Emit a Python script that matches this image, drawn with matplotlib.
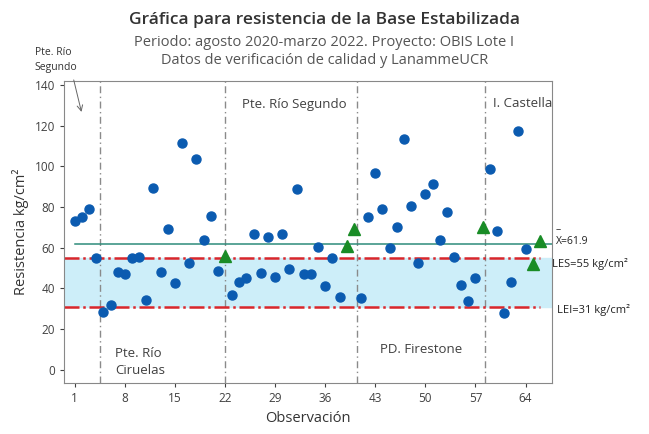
import matplotlib
matplotlib.use("Agg")
import matplotlib.pyplot as plt

plt.rcParams["font.family"] = ["Open Sans", "DejaVu Sans"]

# Datos
observaciones = list(range(1, 67))
resistencia = [
    73, 75, 79, 55, 28.5, 32, 48, 47, 55, 55.5,
    34.5, 89.5, 48, 69, 42.5, 111.5, 52.5, 103.5, 64, 75.5,
    48.5, 56, 37, 43, 45, 67, 47.5, 65.5, 45.5, 67,
    49.5, 89, 47, 47, 60.5, 41, 55, 36, 61, 69,
    35.5, 75, 96.5, 79, 60, 70, 113.5, 80.5, 52.5, 86.5,
    91.5, 64, 77.5, 55.5, 41.5, 34, 45, 70, 98.5, 68,
    28, 43, 117.5, 59.5, 52, 63.5,
]
obs_lanamme = [22, 39, 40, 58, 65, 66]

media = 61.9
les = 55
lei = 31

cortes_tramo = [4.5, 22, 40.5, 58.4]
tramos = [
    ("Pte. Río Segundo", 24.4, 130.5),
    ("I. Castella", 59.4, 131),
    ("Pte. Río\nCiruelas", 6.6, 4),
    ("PD. Firestone", 43.7, 10),
]

xticks = [1, 8, 15, 22, 29, 36, 43, 50, 57, 64]
yticks = [0, 20, 40, 60, 80, 100, 120, 140]

xlim = (-0.5, 67.7)
ylim = (-6.4, 141.9)

fig = plt.figure(figsize=(6.49, 4.34), dpi=100)
ax = fig.add_axes([0.0986, 0.1175, 0.752, 0.696])

ax.axhspan(lei, les, color="#cdeef9", zorder=0)
red_kw = dict(color="#d9262b", lw=1.8, dashes=(6, 1.5, 1, 1.5), zorder=2)
ax.plot([xlim[0], 66], [les, les], **red_kw)
ax.plot([xlim[0], 66], [lei, lei], **red_kw)
ax.plot([observaciones[0], xlim[1]], [media, media], color="#2e8b7a", lw=1.1, zorder=2)

for xc in cortes_tramo:
    ax.axvline(xc, color="#8a8a8a", lw=1.0, dashes=(5, 2.5, 1, 2.5), zorder=1)

obs_circ = [o for o in observaciones if o not in obs_lanamme]
val_circ = [resistencia[o - 1] for o in obs_circ]
val_tri = [resistencia[o - 1] for o in obs_lanamme]
ax.plot(obs_circ, val_circ, "o", color="#0b5bb0", ms=6.5, zorder=3)
ax.plot(obs_lanamme, val_tri, "^", color="#198c26", ms=9, zorder=3)

for texto, x, y in tramos:
    ax.text(x, y, texto, fontsize=9.5, color="#404040", ha="left", va="center",
            linespacing=1.35)

ax.set_xlim(*xlim)
ax.set_ylim(*ylim)
ax.set_xticks(xticks)
ax.set_yticks(yticks)
ax.tick_params(colors="#404040", labelsize=8.5, length=3, width=0.8)
for sp in ax.spines.values():
    sp.set_color("#888888")
ax.set_xlabel("Observación", fontsize=10.5, color="#333333")
ax.set_ylabel("Resistencia kg/cm²", fontsize=10.5, color="#333333")

# etiquetas a la derecha
ytr = ax.get_yaxis_transform()
ax.text(1.008, media + 7, "–", transform=ytr, fontsize=7.5, color="#222222",
        va="center", ha="left")
ax.text(1.008, media + 1, "X=61.9", transform=ytr,
        fontsize=7.5, color="#222222", va="center", ha="left")
ax.text(1.0, les - 3, "LES=55 kg/cm²", transform=ytr,
        fontsize=8, color="#222222", va="center", ha="left")
ax.text(1.01, lei - 1.5, "LEI=31 kg/cm²", transform=ytr,
        fontsize=8, color="#222222", va="center", ha="left")

# nota con flecha
ax.text(-4.6, 152, "Pte. Río\nSegundo", fontsize=7.5, color="#333333",
        ha="left", va="center", linespacing=1.5, clip_on=False)
ax.annotate("", xy=(1.94, 126.7), xytext=(0.86, 142.4),
            annotation_clip=False,
            arrowprops=dict(arrowstyle="->", color="#666666", lw=0.7,
                            shrinkA=0, shrinkB=0))

fig.text(0.5, 0.955, "Gráfica para resistencia de la Base Estabilizada",
         ha="center", va="center", fontsize=12.5, fontweight="semibold", color="#333333")
fig.text(0.5, 0.903, "Periodo: agosto 2020-marzo 2022. Proyecto: OBIS Lote I",
         ha="center", va="center", fontsize=10.5, color="#555555")
fig.text(0.5, 0.860, "Datos de verificación de calidad y LanammeUCR",
         ha="center", va="center", fontsize=10.5, color="#555555")

fig.savefig("out.png", dpi=100)
